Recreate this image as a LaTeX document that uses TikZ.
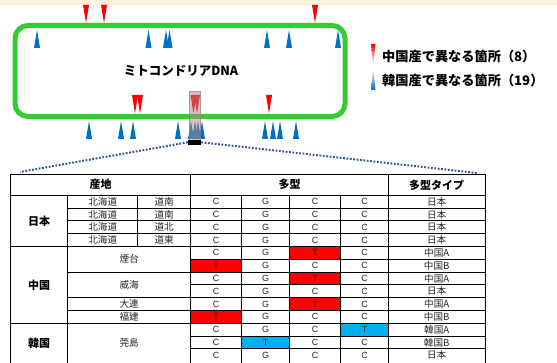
\documentclass[tikz,border=0pt]{standalone}
\usepackage{fontspec}
\setmainfont{Noto Sans CJK JP}
\newfontfamily\latf{Liberation Sans}
\definecolor{bandcol}{HTML}{FFF2DC}
\definecolor{gcol}{HTML}{33CC33}
\definecolor{tblue}{HTML}{0070C0}
\definecolor{tred}{HTML}{FF0000}
\definecolor{cellblue}{HTML}{00B0F0}
\definecolor{dotcol}{HTML}{2F5597}
\definecolor{hatchcol}{HTML}{B08888}
\begin{document}
\begin{tikzpicture}[x=1pt,y=-1pt,
  cell/.style={font=\fontsize{9.6}{10}\selectfont, inner sep=0pt, text=black!85},
  lat/.style={font=\latf\fontsize{9}{10}\selectfont, inner sep=0pt, text=black!85},
  hdr/.style={font=\bfseries\fontsize{11}{12}\selectfont, inner sep=0pt},
  ctry/.style={font=\bfseries\fontsize{11}{12}\selectfont, inner sep=0pt},
  grid/.style={line width=0.8pt, black},
  redt/.style={fill=tred},
  bluet/.style={fill=tblue},
  legtxt/.style={font=\bfseries\fontsize{13.2}{14}\selectfont, inner sep=0pt, anchor=west},
  dotline/.style={dotcol, line width=2pt, dash pattern=on 1.8pt off 1.6pt},
]
\useasboundingbox (0,0) rectangle (557,363);
\fill[bandcol] (0,0) rectangle (557,4.6);
% mitochondrial DNA ring
\draw[line width=5pt, gcol, rounded corners=13pt] (15,25.5) rectangle (345,116.5);
\node[font=\bfseries\fontsize{12.5}{13}\selectfont, inner sep=0pt] (mtdna) at (181,71) {ミトコンドリアDNA};
% triangles
\foreach \x in {86,104,315} \fill[redt] (\x-3,5) -- (\x+3,5) -- (\x,23) -- cycle;
\foreach \x in {37,148.5,166,169.5,267,289,338} \fill[bluet] (\x-3,48) -- (\x+3,48) -- (\x,30) -- cycle;
\foreach \x in {135,140,193.5,197,269} \fill[redt] (\x-3,95) -- (\x+3,95) -- (\x,113.5) -- cycle;
\foreach \x in {89,121,133,178,191,195,198,202,265,273,280,296} \fill[bluet] (\x-3,139) -- (\x+3,139) -- (\x,121) -- cycle;
% highlighted region
\fill[hatchcol, fill opacity=0.5] (189.3,91) rectangle (200.7,140);
\draw[hatchcol!80!black, draw opacity=0.5, line width=0.6pt] (189.3,91) rectangle (200.7,140);
\node[fill=black, inner sep=0pt, minimum width=13pt, minimum height=4.6pt] (blk) at (194.5,142.3) {};
% legend
\shade[top color=tred, bottom color=white] (371,44) -- (375.5,44) -- (373.2,65) -- cycle;
\shade[top color=white, bottom color=tblue] (373.2,68) -- (375.5,90) -- (371,90) -- cycle;
\node[legtxt] (leg1) at (382,56.5) {中国産で異なる箇所（8）};
\node[legtxt] (leg2) at (382,80) {韓国産で異なる箇所（19）};
% table corners for connectors
\coordinate (tl) at (20,172);
\coordinate (tr) at (477,173);
\draw[dotline] (blk.west) -- (tl);
\draw[dotline] (blk.east) -- (tr);
% coloured cells
\fill[tred] (289.7,246.5) rectangle (340.7,259.3);
\fill[tred] (190.7,259.3) rectangle (241.3,272.1);
\fill[tred] (289.7,272.1) rectangle (340.7,284.9);
\fill[tred] (289.7,297.7) rectangle (340.7,310.5);
\fill[tred] (190.7,310.5) rectangle (241.3,323.3);
\fill[cellblue] (340.7,323.3) rectangle (388.3,336.1);
\fill[cellblue] (241.3,336.1) rectangle (289.7,348.9);
% grid: horizontal
\draw[grid] (10.7,174.3) -- (485,174.3);
\draw[grid] (10.7,195.3) -- (485,195.3);
\foreach \y in {208.1,220.9,233.7} \draw[grid] (67.7,\y) -- (485,\y);
\draw[grid] (10.7,246.5) -- (485,246.5);
\foreach \y in {259.3,284.9,336.1,348.9} \draw[grid] (190.7,\y) -- (485,\y);
\foreach \y in {272.1,297.7,310.5} \draw[grid] (67.7,\y) -- (485,\y);
\draw[grid] (10.7,323.3) -- (485,323.3);
% grid: vertical
\foreach \x in {10.7,190.7,388.3,485} \draw[grid] (\x,174.3) -- (\x,363);
\foreach \x in {67.7,241.3,289.7,340.7} \draw[grid] (\x,195.3) -- (\x,363);
\draw[grid] (137.7,195.3) -- (137.7,246.5);
% headers
\node[hdr] (h1) at (100.7,184.8) {産地};
\node[hdr] (h2) at (289.5,184.8) {多型};
\node[hdr] (h3) at (436.7,184.8) {多型タイプ};
% countries
\node[ctry] (c1) at (39.2,220.9) {日本};
\node[ctry] (c2) at (39.2,284.9) {中国};
\node[ctry] (c3) at (39.2,343) {韓国};
% places
\foreach \r/\s in {1/道南,2/道南,3/道北,4/道東} {
  \node[cell] (p\r) at (102.7,{195.3+12.8*(\r-0.5)}) {北海道};
  \node[cell] (q\r) at (164.2,{195.3+12.8*(\r-0.5)}) {\s};
}
\node[cell] (pl5) at (129.2,259.3) {煙台};
\node[cell] (pl7) at (129.2,284.9) {威海};
\node[cell] (pl9) at (129.2,304.1) {大連};
\node[cell] (pl10) at (129.2,316.9) {福建};
\node[cell] (pl11) at (129.2,343) {莞島};
% data
\foreach \r/\a/\b/\c/\d/\t in {1/C/G/C/C/日本,2/C/G/C/C/日本,3/C/G/C/C/日本,4/C/G/C/C/日本,
  5/C/G/T/C/中国A,6/T/G/C/C/中国B,7/C/G/T/C/中国A,8/C/G/C/C/日本,9/C/G/T/C/中国A,
  10/T/G/C/C/中国B,11/C/G/C/T/韓国A,12/C/T/C/C/韓国B,13/C/G/C/C/日本} {
  \node[lat] (a\r) at (216,{195.3+12.8*(\r-0.5)}) {\a};
  \node[lat] (b\r) at (265.5,{195.3+12.8*(\r-0.5)}) {\b};
  \node[lat] (c\r) at (315.2,{195.3+12.8*(\r-0.5)}) {\c};
  \node[lat] (d\r) at (364.5,{195.3+12.8*(\r-0.5)}) {\d};
  \node[cell] (t\r) at (436.7,{195.3+12.8*(\r-0.5)}) {\t};
}
\end{tikzpicture}
\end{document}
